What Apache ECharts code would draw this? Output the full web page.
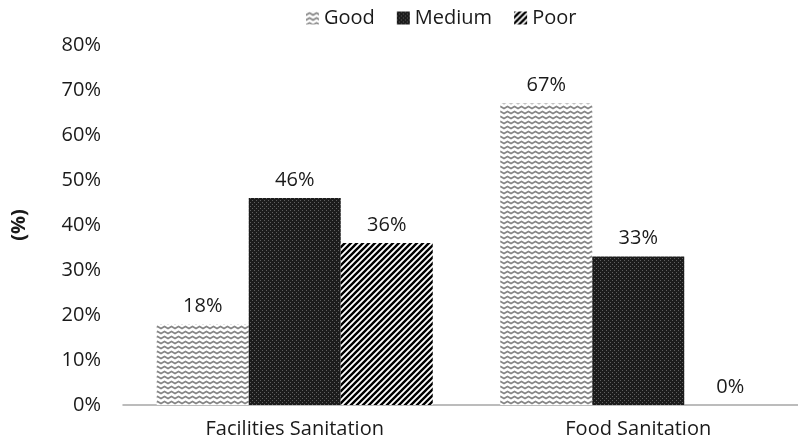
<!DOCTYPE html>
<html>
<head>
<meta charset="utf-8">
<script src="https://cdn.jsdelivr.net/npm/echarts@6/dist/echarts.min.js"></script>
<style>
  html, body { margin: 0; padding: 0; background: #fff; }
  #chart { width: 798px; height: 441px; }
</style>
</head>
<body>
<div id="chart"></div>
<script>
var categories = ['Facilities Sanitation', 'Food Sanitation'];
var seriesNames = ['Good', 'Medium', 'Poor'];
var goodValues = [18, 67];
var mediumValues = [46, 33];
var poorValues = [36, 0];
var yTicks = [0, 10, 20, 30, 40, 50, 60, 70, 80];

// fill patterns (drawn on small canvases)
function zigzag() {
  var c = document.createElement('canvas');
  c.width = 7; c.height = 5;
  var g = c.getContext('2d');
  g.fillStyle = '#fff'; g.fillRect(0, 0, 7, 5);
  g.strokeStyle = '#868686'; g.lineWidth = 1.7;
  g.beginPath();
  g.moveTo(-1.75, 1.5); g.lineTo(0, 3.5); g.lineTo(3.5, 1.5); g.lineTo(7, 3.5); g.lineTo(8.75, 1.5);
  g.stroke();
  return c;
}
function checker() {
  var c = document.createElement('canvas');
  c.width = 4; c.height = 4;
  var g = c.getContext('2d');
  g.fillStyle = '#1c1c1c'; g.fillRect(0, 0, 4, 4);
  g.fillStyle = '#606060';
  g.fillRect(0, 0, 1, 1); g.fillRect(2, 2, 1, 1);
  return c;
}
function stripes() {
  var c = document.createElement('canvas');
  c.width = 6; c.height = 6;
  var g = c.getContext('2d');
  g.fillStyle = '#fff'; g.fillRect(0, 0, 6, 6);
  g.strokeStyle = '#000'; g.lineWidth = 2.4;
  g.beginPath();
  g.moveTo(-1, 7); g.lineTo(7, -1);
  g.moveTo(-4, 4); g.lineTo(4, -4);
  g.moveTo(2, 10); g.lineTo(10, 2);
  g.stroke();
  return c;
}

var fills = [
  { image: zigzag(), repeat: 'repeat' },
  { image: checker(), repeat: 'repeat' },
  { image: stripes(), repeat: 'repeat' }
];
var values = [goodValues, mediumValues, poorValues];

var font = 'Open Sans';
var fs = 20;
var myChart = echarts.init(document.getElementById('chart'));

var series = seriesNames.map(function (name, i) {
  return {
    name: name,
    type: 'bar',
    data: values[i],
    barWidth: 92,
    barGap: '0%',
    itemStyle: { color: fills[i] },
    label: {
      show: true,
      position: 'top',
      distance: 8,
      formatter: '{c}%',
      color: '#1a1a1a',
      fontFamily: font,
      fontSize: fs
    }
  };
});

var option = {
  animation: false,
  legend: {
    top: 3,
    left: 301,
    itemWidth: 13,
    itemHeight: 13,
    itemGap: 22,
    itemTextGap: 8,
    icon: 'rect',
    textStyle: { color: '#1a1a1a', fontFamily: font, fontSize: fs },
    data: seriesNames
  },
  grid: { left: 123, top: 45, bottom: 36, width: 687, outerBoundsMode: 'none', containLabel: false },
  xAxis: {
    type: 'category',
    data: categories,
    axisLine: { lineStyle: { color: '#a6a6a6', width: 1.5 } },
    axisTick: { show: false },
    axisLabel: { color: '#1a1a1a', fontFamily: font, fontSize: fs, margin: 14 }
  },
  yAxis: {
    type: 'value',
    min: yTicks[0],
    max: yTicks[yTicks.length - 1],
    interval: 10,
    name: '(%)',
    nameLocation: 'middle',
    nameGap: 94,
    nameRotate: 90,
    nameTextStyle: { color: '#1a1a1a', fontFamily: font, fontSize: fs, fontWeight: 'bold' },
    axisLine: { show: false },
    axisTick: { show: false },
    splitLine: { show: false },
    axisLabel: { formatter: '{value}%', color: '#1a1a1a', fontFamily: font, fontSize: fs, margin: 22 }
  },
  series: series
};

myChart.setOption(option);
</script>
</body>
</html>
